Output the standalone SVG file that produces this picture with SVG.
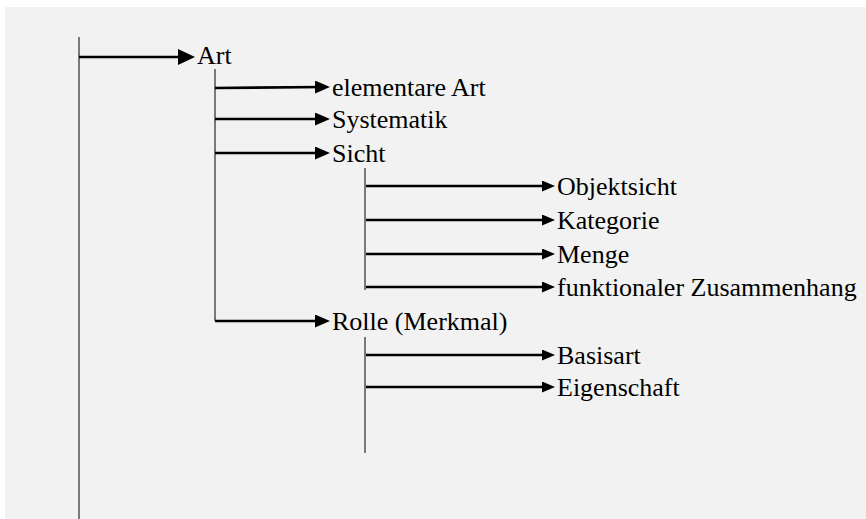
<svg xmlns="http://www.w3.org/2000/svg" width="866" height="519" viewBox="0 0 866 519">
  <style>
    .lbl { font-family: 'Liberation Serif', 'DejaVu Serif', serif; font-size: 26px; fill: #000; }
    .trunk { stroke: #5a5a5a; stroke-width: 1.6; fill: none; }
    .branch { stroke: #000; stroke-width: 2.6; fill: none; }
  </style>
  <defs>
    <marker id="headL" markerUnits="userSpaceOnUse" markerWidth="18" markerHeight="18" refX="11" refY="8" orient="auto">
      <path d="M0,0 L17,8 L0,16 z" fill="#000"/>
    </marker>
    <marker id="headM" markerUnits="userSpaceOnUse" markerWidth="16" markerHeight="14" refX="9" refY="6.5" orient="auto">
      <path d="M0,0 L15,6.5 L0,13 z" fill="#000"/>
    </marker>
    <marker id="headS" markerUnits="userSpaceOnUse" markerWidth="14" markerHeight="12" refX="7" refY="5.5" orient="auto">
      <path d="M0,0 L13,5.5 L0,11 z" fill="#000"/>
    </marker>
  </defs>

  <!-- canvas -->
  <rect x="5" y="7" width="861" height="512" fill="#f2f2f2"/>

  <g id="connectors">
    <!-- trunks -->
    <line class="trunk" x1="79" y1="37" x2="79" y2="519"/>
    <line class="trunk" x1="215" y1="69" x2="215" y2="321"/>
    <line class="trunk" x1="365" y1="168" x2="365" y2="290"/>
    <line class="trunk" x1="365" y1="337" x2="365" y2="453"/>

    <!-- level 1 -->
    <line class="branch" x1="79" y1="57" x2="189" y2="57" marker-end="url(#headL)"/>

    <!-- level 2 -->
    <line class="branch" x1="215" y1="88" x2="324" y2="87" marker-end="url(#headM)"/>
    <line class="branch" x1="215" y1="119" x2="324" y2="119" marker-end="url(#headM)"/>
    <line class="branch" x1="215" y1="153" x2="324" y2="153" marker-end="url(#headM)"/>
    <line class="branch" x1="215" y1="321" x2="324" y2="321" marker-end="url(#headM)"/>

    <!-- level 3 -->
    <line class="branch" x1="366" y1="186" x2="549" y2="186" marker-end="url(#headS)"/>
    <line class="branch" x1="366" y1="220" x2="549" y2="220" marker-end="url(#headS)"/>
    <line class="branch" x1="366" y1="254" x2="549" y2="254" marker-end="url(#headS)"/>
    <line class="branch" x1="366" y1="287" x2="549" y2="287" marker-end="url(#headS)"/>
    <line class="branch" x1="366" y1="355" x2="549" y2="355" marker-end="url(#headS)"/>
    <line class="branch" x1="366" y1="387" x2="549" y2="387" marker-end="url(#headS)"/>
  </g>

  <g font-family="Liberation Serif, serif">
    <g id="art"><text class="lbl" x="197" y="64">Art</text></g>
    <g id="elementare-art"><text class="lbl" x="332" y="96">elementare Art</text></g>
    <g id="systematik"><text class="lbl" x="332" y="128">Systematik</text></g>
    <g id="sicht"><text class="lbl" x="332" y="162">Sicht</text></g>
    <g id="objektsicht"><text class="lbl" x="557" y="195">Objektsicht</text></g>
    <g id="kategorie"><text class="lbl" x="557" y="229">Kategorie</text></g>
    <g id="menge"><text class="lbl" x="557" y="263">Menge</text></g>
    <g id="funktionaler-zusammenhang"><text class="lbl" x="557" y="296">funktionaler Zusammenhang</text></g>
    <g id="rolle"><text class="lbl" x="332" y="330">Rolle (Merkmal)</text></g>
    <g id="basisart"><text class="lbl" x="557" y="364">Basisart</text></g>
    <g id="eigenschaft"><text class="lbl" x="557" y="396">Eigenschaft</text></g>
  </g>
</svg>
